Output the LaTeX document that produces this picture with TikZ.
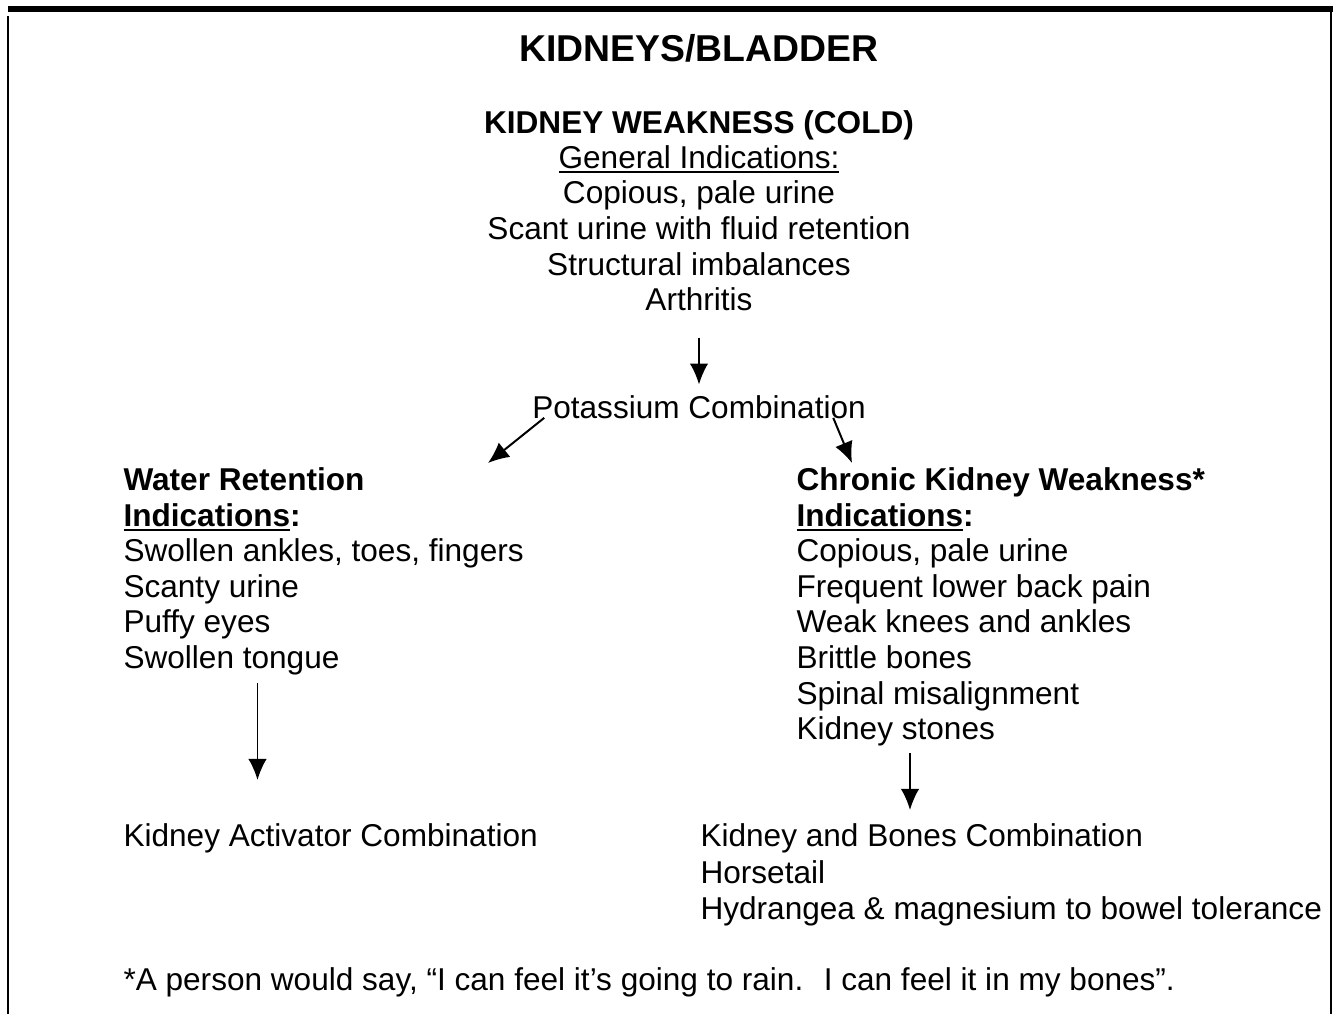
\documentclass[tikz,border=0pt]{standalone}
\usepackage{fontspec}
\setmainfont{Liberation Sans}
\usetikzlibrary{arrows.meta}
\newcommand\ulin[1]{\setbox0\hbox{#1}\rlap{\rule[-2pt]{\wd0}{0.8pt}}\box0}

\begin{document}
\begin{tikzpicture}[x=0.38pt,y=-0.38pt,
    txt/.style={anchor=base west,inner sep=0pt,font=\fontsize{12}{14}\selectfont},
    ctxt/.style={txt,anchor=base},
    arr/.style={-{Latex[length=8pt,width=7pt]},line width=0.75pt}]
  \useasboundingbox (0,0) rectangle (1337,1014);
  % frame: heavy top rule, thin sides
  \fill (8,6) rectangle (1333,12);
  \draw[line width=0.75pt] (8,16) -- (8,1014);
  \draw[line width=0.75pt] (1331,10) -- (1331,1014);
  % title and the general block
  \node[ctxt,font=\fontsize{14.2}{17}\selectfont\bfseries] (title) at (699,61) {KIDNEYS/BLADDER};
  \node[ctxt,font=\fontsize{12}{14}\selectfont\bfseries] (weak) at (699,133) {KIDNEY WEAKNESS (COLD)};
  \node[ctxt] (gen) at (699,168) {\ulin{General Indications:}};
  \foreach \t [count=\i] in {{Copious, pale urine},{Scant urine with fluid retention},{Structural imbalances},{Arthritis}}{
    \node[ctxt] (g\i) at (699,168+35.7*\i) {\t};
  }
  \node[ctxt] (potas) at (699,418) {Potassium Combination};
  \draw[arr,shorten <=26*0.38pt,shorten >=10*0.38pt] (g4.south) -- (potas.north);
  % water retention (left)
  \node[txt,font=\fontsize{12}{14}\selectfont\bfseries] (wret) at (123,490) {Water Retention};
  \node[txt,font=\fontsize{12}{14}\selectfont\bfseries] (wind) at (123,526) {\ulin{Indications}:};
  \foreach \t [count=\i] in {{Swollen ankles, toes, fingers},{Scanty urine},{Puffy eyes},{Swollen tongue}}{
    \node[txt] (w\i) at (123,526+35.6*\i) {\t};
  }
  \node[txt] (kact) at (123,846) {Kidney Activator Combination};
  % chronic kidney weakness (right)
  \node[txt,font=\fontsize{12}{14}\selectfont\bfseries] (ckw) at (796,490) {Chronic Kidney Weakness*};
  \node[txt,font=\fontsize{12}{14}\selectfont\bfseries] (cind) at (796,526) {\ulin{Indications}:};
  \foreach \t [count=\i] in {{Copious, pale urine},{Frequent lower back pain},{Weak knees and ankles},{Brittle bones},{Spinal misalignment},{Kidney stones}}{
    \node[txt] (c\i) at (796,526+35.6*\i) {\t};
  }
  \node[txt] (kbc) at (700,846) {Kidney and Bones Combination};
  \node[txt] (hors) at (700,883) {Horsetail};
  \node[txt] (hydr) at (700,919) {Hydrangea \& magnesium to bowel tolerance};
  % arrows
  \coordinate (wtip) at (488,463);
  \coordinate (ctip) at (852,463);
  \draw[arr] (potas.south west) ++(12.5,-1) -- (wtip);
  \draw[arr] (potas.south east) ++(-33,-1) -- (ctip);
  \coordinate (wa) at (257.5,683);
  \coordinate (wb) at (257.5,780);
  \coordinate (ca) at (910,753);
  \coordinate (cb) at (910,810);
  \draw[arr] (wa) -- (wb);
  \draw[arr] (ca) -- (cb);
  % footnote
  \node[txt] (foot) at (123,990) {*A person would say, “I can feel it’s going to rain.~ I can feel it in my bones”.};
\end{tikzpicture}
\end{document}
